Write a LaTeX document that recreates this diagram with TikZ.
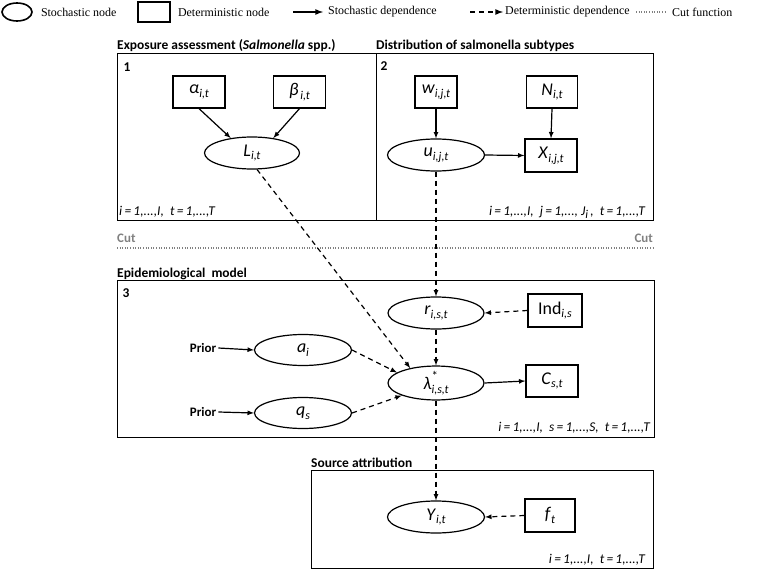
\documentclass[tikz,border=0pt]{standalone}
\usepackage{fontspec}
\setmainfont{Carlito}
\newfontfamily\legendfont{Liberation Serif}
\usetikzlibrary{arrows, shapes.geometric, positioning}

% italic symbol with italic subscript
\newcommand{\vsub}[2]{\textit{#1}\raisebox{-0.45ex}{\fontsize{12}{12}\selectfont\textit{#2}}}
% upright symbol with italic subscript
\newcommand{\usub}[2]{#1\raisebox{-0.45ex}{\fontsize{12}{12}\selectfont\textit{#2}}}
% italic symbol with superscript and subscript
\newcommand{\vsubsup}[3]{\textit{#1}\rlap{\raisebox{1.1ex}{\fontsize{13}{13}\selectfont #2}}\raisebox{-0.45ex}{\fontsize{12}{12}\selectfont\textit{#3}}}

\begin{document}
\begin{tikzpicture}[x=1bp, y=-1bp,
    stochnode/.style={draw, ellipse, line width=1.2bp, minimum width=96bp, minimum height=32bp, inner sep=0pt, font=\fontsize{18}{18}\selectfont},
    detnode/.style={draw, rectangle, line width=1.2bp, minimum width=52bp, minimum height=32bp, inner sep=0pt, font=\fontsize{18}{18}\selectfont},
    panel/.style={draw, rectangle, line width=1.2bp, anchor=north west, inner sep=0pt},
    paneltitle/.style={anchor=base west, inner sep=0pt, font=\bfseries\fontsize{13.5}{13.5}\selectfont},
    panelnum/.style={inner sep=0pt, font=\bfseries\fontsize{13.5}{13.5}\selectfont},
    indexlbl/.style={inner sep=0pt, font=\itshape\fontsize{13.5}{13.5}\selectfont},
    priorlbl/.style={inner ysep=0pt, inner xsep=2bp, font=\bfseries\fontsize{13}{13}\selectfont},
    legendtxt/.style={anchor=west, inner sep=0pt, font=\legendfont\fontsize{12}{12}\selectfont},
    stocharrow/.style={->, >=latex, line width=1.2bp},
    detarrow/.style={->, >=latex, line width=1.2bp, dash pattern=on 5bp off 4bp},
    cutline/.style={gray, line width=1.2bp, dash pattern=on 1bp off 1.6bp},
    cutlbl/.style={inner sep=0pt, text=gray, font=\bfseries\fontsize{13}{13}\selectfont},
]
    \useasboundingbox (0,0) rectangle (760,570);

    % Legend
    \node[draw, ellipse, line width=1.6bp, minimum width=30bp, minimum height=18bp, inner sep=0pt] (legstoch) at (17,12) {};
    \node[legendtxt, right=8bp of legstoch] (legstochtxt) {Stochastic node};
    \node[draw, rectangle, line width=1.6bp, minimum width=32bp, minimum height=20bp, inner sep=0pt] (legdet) at (154,12) {};
    \node[legendtxt, right=7bp of legdet] (legdettxt) {Deterministic node};
    \coordinate (legsa) at (293,12);
    \coordinate (legsb) at (323,12);
    \draw[stocharrow, line width=1.6bp] (legsa) -- (legsb);
    \node[legendtxt, right=5bp of legsb] (legsatxt) {Stochastic dependence};
    \coordinate (legda) at (470,12);
    \coordinate (legdb) at (503,12);
    \draw[detarrow, line width=1.6bp] (legda) -- (legdb);
    \node[legendtxt, right=2bp of legdb] (legdatxt) {Deterministic dependence};
    \coordinate (legca) at (636,12);
    \coordinate (legcb) at (667,12);
    \draw[cutline] (legca) -- (legcb);
    \node[legendtxt, right=5bp of legcb] (legcuttxt) {Cut function};

    % Panel 1: exposure assessment
    \node[panel, minimum width=259bp, minimum height=167bp] (box1) at (117,53) {};
    \node[paneltitle] (title1) at (117,50) {Exposure assessment (\textit{Salmonella} spp.)};
    \node[panelnum] (num1) at (127,67) {1};
    \node[detnode] (alpha) at (199,92) {\vsub{α}{i,t}};
    \node[detnode] (beta) at (299.5,92) {\vsub{β}{\,i,t}};
    \node[stochnode, minimum width=95bp] (L) at (252,153) {\vsub{L}{i,t}};
    \node[indexlbl, anchor=west] (idx1) at (119,212) {i\,=\,1,...,I,\ \ t\,=\,1,...,T};
    \draw[stocharrow] (alpha.south) -- (L.145);
    \draw[stocharrow] (beta.south) -- (L.35);

    % Panel 2: salmonella subtypes
    \node[panel, minimum width=277bp, minimum height=167bp] (box2) at (376,53) {};
    \node[paneltitle] (title2) at (376,50) {Distribution of salmonella subtypes};
    \node[panelnum] (num2) at (384,66) {2};
    \node[detnode, minimum width=42bp] (w) at (436,92) {\vsub{w}{i,j,t}};
    \node[detnode, minimum width=51bp] (N) at (552,92) {\vsub{N}{i,t}};
    \node[stochnode, minimum width=97bp] (u) at (436,155) {\vsub{u}{i,j,t}};
    \node[detnode, minimum height=33bp] (X) at (551,155.5) {\vsub{X}{i,j,t}};
    \node[indexlbl, anchor=east] (idx2) at (645,212) {i\,=\,1,...,I,\ \ j\,=\,1,..., \vsub{J}{i}\,,\ \ t\,=\,1,...,T};
    \draw[stocharrow] (w.south) -- (u.north);
    \draw[stocharrow] (N.south) -- (X.north);
    \draw[stocharrow] (u.east) -- (X.west);

    % Cut
    \coordinate (cutl) at (117,248);
    \coordinate (cutr) at (653,248);
    \draw[cutline] (cutl) -- (cutr);
    \node[cutlbl, anchor=base west] (cutltxt) at (117,242) {Cut};
    \node[cutlbl, anchor=base east] (cutrtxt) at (653,242) {Cut};

    % Panel 3: epidemiological model
    \node[panel, minimum width=537bp, minimum height=157bp] (box3) at (117,280) {};
    \node[paneltitle] (title3) at (117,277) {Epidemiological\ \ model};
    \node[panelnum] (num3) at (126,293) {3};
    \node[stochnode] (r) at (436,313) {\vsub{r}{i,s,t}};
    \node[detnode, minimum width=54bp, minimum height=33bp] (Ind) at (555,310.5) {\usub{Ind}{i,s}};
    \node[stochnode, minimum width=97bp, minimum height=31bp] (a) at (303,350) {\vsub{a}{i}};
    \node[stochnode] (lam) at (436,383) {\vsubsup{λ}{*}{i,s,t}};
    \node[detnode] (C) at (552,381) {\vsub{C}{s,t}};
    \node[stochnode, minimum width=97bp, minimum height=31bp] (q) at (303,413) {\vsub{q}{s}};
    \node[priorlbl] (priora) at (203,348) {Prior};
    \node[priorlbl] (priorq) at (203,412) {Prior};
    \node[indexlbl, anchor=east] (idx3) at (650,428) {i\,=\,1,...,I,\ \ s\,=\,1,...,S,\ \ t\,=\,1,...,T};
    \draw[stocharrow] (priora.east) -- (a.west);
    \draw[stocharrow] (priorq.east) -- (q.west);
    \draw[detarrow] (u.south) -- (r.north);
    \draw[detarrow] (Ind.west) -- (r.east);
    \draw[detarrow] (r.south) -- (lam.north);
    \draw[detarrow] (L.-73) -- (lam.150);
    \draw[detarrow] (a.east) -- (lam.165);
    \draw[detarrow] (q.east) -- (lam.200);
    \draw[stocharrow] (lam.east) -- (C.west);

    % Panel 4: source attribution
    \node[panel, minimum width=342bp, minimum height=98bp] (box4) at (311,470) {};
    \node[paneltitle] (title4) at (311,467) {Source attribution};
    \node[stochnode, minimum width=97bp] (Y) at (436,517) {\vsub{Y}{i,t}};
    \node[detnode, minimum width=50bp, minimum height=33bp] (f) at (550,515.5) {\vsub{f}{t}};
    \node[indexlbl, anchor=east] (idx4) at (645,560) {i\,=\,1,...,I,\ \ t\,=\,1,...,T};
    \draw[detarrow] (lam.south) -- (Y.north);
    \draw[detarrow] (f.west) -- (Y.east);
\end{tikzpicture}
\end{document}
